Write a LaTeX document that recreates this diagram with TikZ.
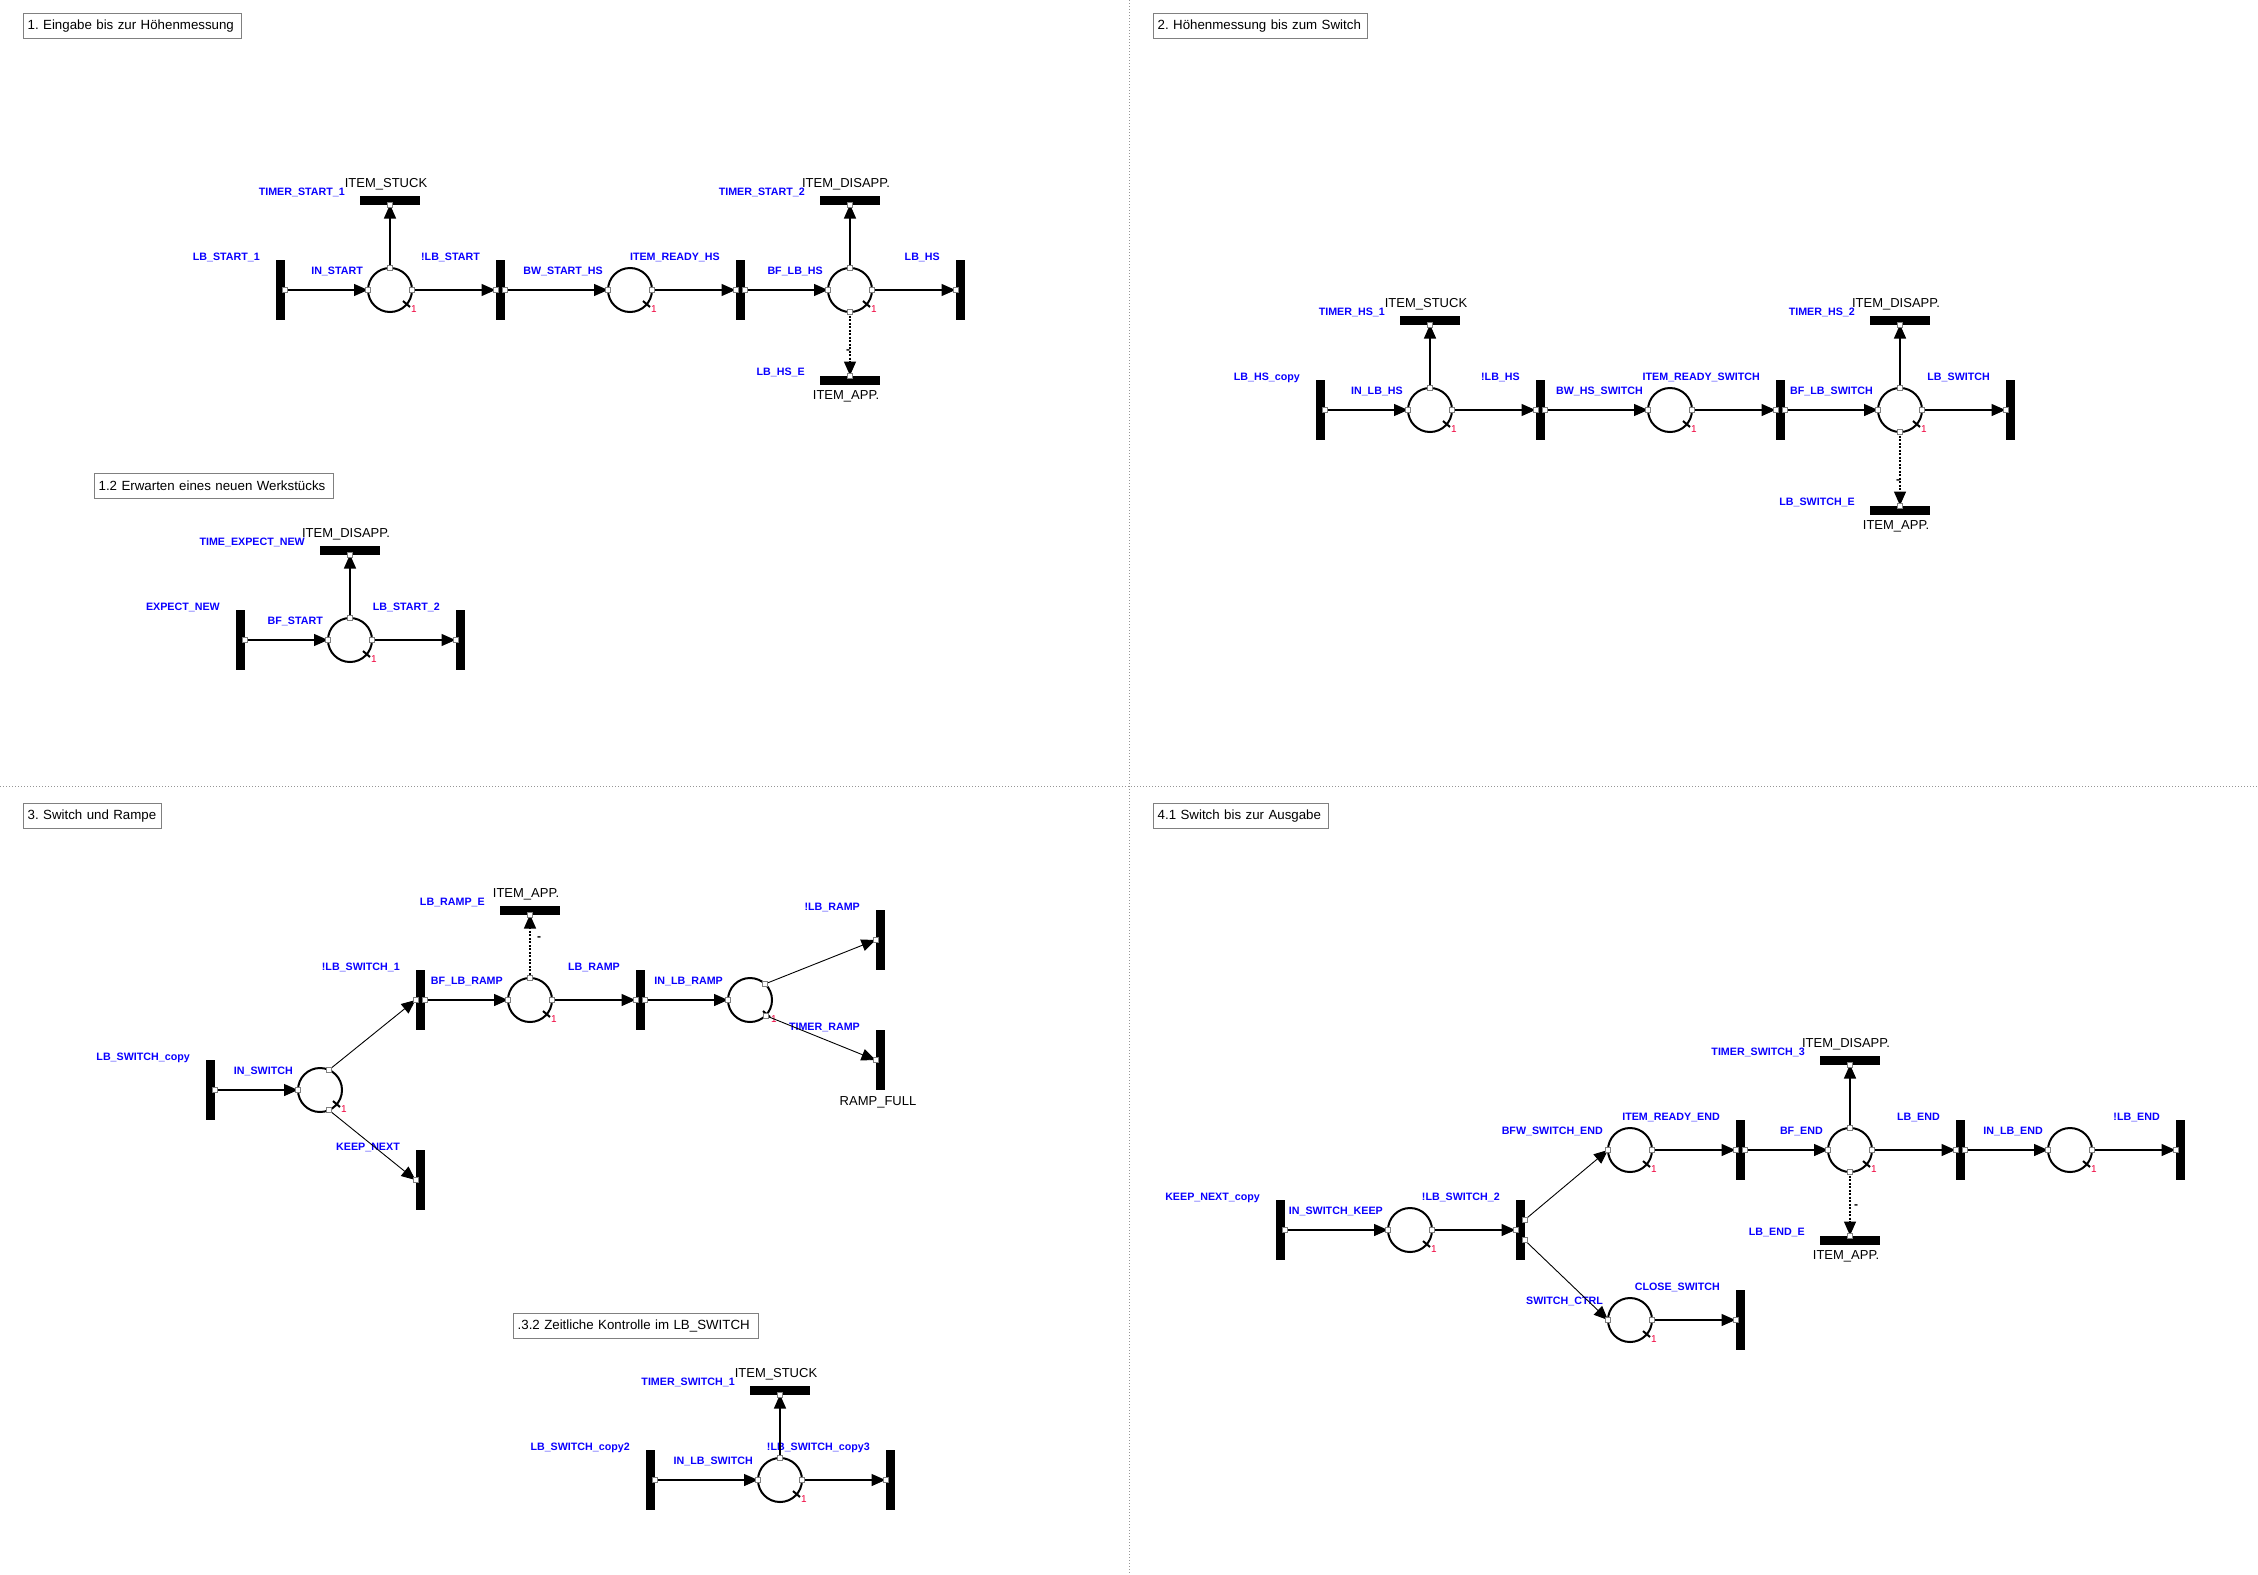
\documentclass[tikz,border=0pt]{standalone}
\usepackage{fontspec}
\setmainfont{Liberation Sans}
\usetikzlibrary{arrows.meta}
\frenchspacing
\definecolor{tokred}{RGB}{240,0,60}
\definecolor{lblblue}{RGB}{10,0,255}
\definecolor{divgray}{RGB}{150,150,150}
\tikzset{
  place/.style={circle, draw=black, line width=2pt, minimum size=44pt, inner sep=0pt, outer sep=0pt},
  vbar/.style={rectangle, fill=black, minimum width=9pt, minimum height=60pt, inner sep=0pt, outer sep=0pt},
  hbar/.style={rectangle, fill=black, minimum width=60pt, minimum height=9pt, inner sep=0pt, outer sep=0pt},
  arc/.style={line width=1.3pt, -{Triangle[length=14pt,width=12pt]}},
  darc/.style={line width=0.9pt, -{Triangle[length=14pt,width=12pt]}},
  inhib/.style={line width=1.3pt, dash pattern=on 2pt off 1.5pt, -{Triangle[length=14pt,width=12pt]}},
  blbl/.style={text=lblblue, font=\fontsize{10.7}{12}\selectfont\bfseries, inner sep=0pt, text height=7.7pt, text depth=0pt, anchor=east},
  klbl/.style={text=black, font=\fontsize{13}{15}\selectfont, inner sep=0pt, text height=9.3pt, text depth=0pt},
  tok/.style={text=tokred, font=\fontsize{10}{12}\selectfont, inner sep=0pt},
  tickmark/.style={line width=2pt},
  minus/.style={text=black, font=\fontsize{12}{12}\selectfont\bfseries, inner sep=0pt},
  sqs/.style={draw=gray, fill=white, line width=0.8pt},
  titlebox/.style={draw=gray, line width=1.3pt, anchor=north west, inner xsep=4pt, inner ysep=0pt,
    minimum height=25pt, align=left, font=\fontsize{13.3}{15}\selectfont\frenchspacing},
  divider/.style={draw=divgray, line width=1pt, dash pattern=on 1pt off 2pt}
}
\newcommand{\mkplace}[4]{%
  \node[place] (#1) at (#2,#3) {};
  \node[blbl] (#1l) at (#2-27,#3-19) {#4};
  \draw[tickmark] (#2+13,#3+11) -- (#2+20,#3+17);
  \node[tok] (#1n) at (#2+24,#3+19) {1};
}
\newcommand{\mkvt}[4]{%
  \node[vbar] (#1) at (#2,#3) {};
  \node[blbl] (#1l) at (#2-20,#3-33) {#4};
}
\newcommand{\mkht}[6]{%
  \node[hbar] (#1) at (#2,#3) {};
  \node[blbl] (#1l) at (#2-45,#3-8) {#4};
  \node[klbl] (#1k) at (#2-4,#3+#6) {#5};
}
\newcommand{\sqbox}[1]{\draw[sqs] (#1) ++(-2.5,-2.5) rectangle ++(5,5);}
\newcommand{\pnarc}[3][arc]{\draw[#1] (#2) -- (#3); \sqbox{#2}\sqbox{#3}}
\begin{document}
\begin{tikzpicture}[x=1pt,y=-1pt]
\fill[white] (0,0) rectangle (2258,1574);
\useasboundingbox (0,0) rectangle (2258,1574);
% dividers
\draw[divider] (1129,0) -- (1129,1574);
\draw[divider] (0,786) -- (2258,786);
% titles
\node[titlebox, text width=210pt] (tb1) at (23,13) {\mbox{1. Eingabe bis zur Höhenmessung}};
\node[titlebox, text width=231pt] (tb12) at (94,473) {\mbox{1.2 Erwarten eines neuen Werkstücks}};
\node[titlebox, text width=206pt] (tb2) at (1153,13) {\mbox{2. Höhenmessung bis zum Switch}};
\node[titlebox, text width=130pt] (tb3) at (23,803) {\mbox{3. Switch und Rampe}};
\node[titlebox, text width=237pt] (tb32) at (513,1313) {\mbox{.3.2 Zeitliche Kontrolle im LB\_SWITCH}};
\node[titlebox, text width=167pt] (tb41) at (1153,803) {\mbox{4.1 Switch bis zur Ausgabe}};

% ---------- 1 ----------
\mkvt{ta}{280}{290}{LB\_START\_1}
\mkplace{pa}{390}{290}{IN\_START}
\mkvt{tb}{500}{290}{!LB\_START}
\mkplace{pb}{630}{290}{BW\_START\_HS}
\mkvt{tc}{740}{290}{ITEM\_READY\_HS}
\mkplace{pc}{850}{290}{BF\_LB\_HS}
\mkvt{td}{960}{290}{LB\_HS}
\mkht{ha}{390}{200}{TIMER\_START\_1}{ITEM\_STUCK}{-17}
\mkht{hb}{850}{200}{TIMER\_START\_2}{ITEM\_DISAPP.}{-17}
\mkht{hc}{850}{380}{LB\_HS\_E}{ITEM\_APP.}{15}
\pnarc{ta.east}{pa.west}
\pnarc{pa.east}{tb.west}
\pnarc{tb.east}{pb.west}
\pnarc{pb.east}{tc.west}
\pnarc{tc.east}{pc.west}
\pnarc{pc.east}{td.west}
\pnarc{pa.north}{ha.south}
\pnarc{pc.north}{hb.south}
\pnarc[inhib]{pc.south}{hc.north}
\node[minus] (ma) at (848,352) {-};

% ---------- 1.2 ----------
\mkvt{te}{240}{640}{EXPECT\_NEW}
\mkplace{pe}{350}{640}{BF\_START}
\mkvt{tf}{460}{640}{LB\_START\_2}
\mkht{he}{350}{550}{TIME\_EXPECT\_NEW}{ITEM\_DISAPP.}{-17}
\pnarc{te.east}{pe.west}
\pnarc{pe.east}{tf.west}
\pnarc{pe.north}{he.south}

% ---------- 2 ----------
\mkvt{tg}{1320}{410}{LB\_HS\_copy}
\mkplace{pg}{1430}{410}{IN\_LB\_HS}
\mkvt{th}{1540}{410}{!LB\_HS}
\mkplace{ph}{1670}{410}{BW\_HS\_SWITCH}
\mkvt{ti}{1780}{410}{ITEM\_READY\_SWITCH}
\mkplace{pi}{1900}{410}{BF\_LB\_SWITCH}
\mkvt{tj}{2010}{410}{LB\_SWITCH}
\mkht{hg}{1430}{320}{TIMER\_HS\_1}{ITEM\_STUCK}{-17}
\mkht{hi}{1900}{320}{TIMER\_HS\_2}{ITEM\_DISAPP.}{-17}
\mkht{hj}{1900}{510}{LB\_SWITCH\_E}{ITEM\_APP.}{15}
\pnarc{tg.east}{pg.west}
\pnarc{pg.east}{th.west}
\pnarc{th.east}{ph.west}
\pnarc{ph.east}{ti.west}
\pnarc{ti.east}{pi.west}
\pnarc{pi.east}{tj.west}
\pnarc{pg.north}{hg.south}
\pnarc{pi.north}{hi.south}
\pnarc[inhib]{pi.south}{hj.north}
\node[minus] (mb) at (1898,482) {-};

% ---------- 3 ----------
\mkvt{tk}{210}{1090}{LB\_SWITCH\_copy}
\mkplace{pk}{320}{1090}{IN\_SWITCH}
\mkvt{tl}{420}{1000}{!LB\_SWITCH\_1}
\mkvt{tm}{420}{1180}{KEEP\_NEXT}
\mkplace{pl}{530}{1000}{BF\_LB\_RAMP}
\mkht{hl}{530}{910}{LB\_RAMP\_E}{ITEM\_APP.}{-17}
\mkvt{tn}{640}{1000}{LB\_RAMP}
\mkplace{pn}{750}{1000}{IN\_LB\_RAMP}
\mkvt{to}{880}{940}{!LB\_RAMP}
\mkvt{tp}{880}{1060}{TIMER\_RAMP}
\node[klbl] (rampfull) at (878,1101) {RAMP\_FULL};
\pnarc{tk.east}{pk.west}
\pnarc[darc]{pk.66}{tl.west}
\pnarc[darc]{pk.-66}{tm.west}
\pnarc{tl.east}{pl.west}
\pnarc[inhib]{pl.north}{hl.south}
\node[minus] (mc) at (539,939) {-};
\pnarc{pl.east}{tn.west}
\pnarc{tn.east}{pn.west}
\pnarc[darc]{pn.47}{to.west}
\pnarc[darc]{pn.-45}{tp.west}

% ---------- 3.2 ----------
\mkvt{tq}{650}{1480}{LB\_SWITCH\_copy2}
\mkplace{pq}{780}{1480}{IN\_LB\_SWITCH}
\mkvt{tr}{890}{1480}{!LB\_SWITCH\_copy3}
\mkht{hq}{780}{1390}{TIMER\_SWITCH\_1}{ITEM\_STUCK}{-17}
\pnarc{tq.east}{pq.west}
\pnarc{pq.east}{tr.west}
\pnarc{pq.north}{hq.south}

% ---------- 4.1 ----------
\mkvt{ts}{1280}{1230}{KEEP\_NEXT\_copy}
\mkplace{ps}{1410}{1230}{IN\_SWITCH\_KEEP}
\mkvt{tt}{1520}{1230}{!LB\_SWITCH\_2}
\mkplace{pt}{1630}{1150}{BFW\_SWITCH\_END}
\mkplace{pu}{1630}{1320}{SWITCH\_CTRL}
\mkvt{tu}{1740}{1150}{ITEM\_READY\_END}
\mkvt{tv}{1740}{1320}{CLOSE\_SWITCH}
\mkplace{pv}{1850}{1150}{BF\_END}
\mkht{hv}{1850}{1060}{TIMER\_SWITCH\_3}{ITEM\_DISAPP.}{-17}
\mkht{hw}{1850}{1240}{LB\_END\_E}{ITEM\_APP.}{15}
\mkvt{tw}{1960}{1150}{LB\_END}
\mkplace{pw}{2070}{1150}{IN\_LB\_END}
\mkvt{tx}{2180}{1150}{!LB\_END}
\pnarc{ts.east}{ps.west}
\pnarc{ps.east}{tt.west}
\pnarc[darc]{[yshift=10pt]tt.east}{pt.west}
\pnarc[darc]{[yshift=-10pt]tt.east}{pu.west}
\pnarc{pt.east}{tu.west}
\pnarc{pu.east}{tv.west}
\pnarc{tu.east}{pv.west}
\pnarc{pv.north}{hv.south}
\pnarc[inhib]{pv.south}{hw.north}
\node[minus] (md) at (1856,1207) {-};
\pnarc{pv.east}{tw.west}
\pnarc{tw.east}{pw.west}
\pnarc{pw.east}{tx.west}
\end{tikzpicture}
\end{document}
